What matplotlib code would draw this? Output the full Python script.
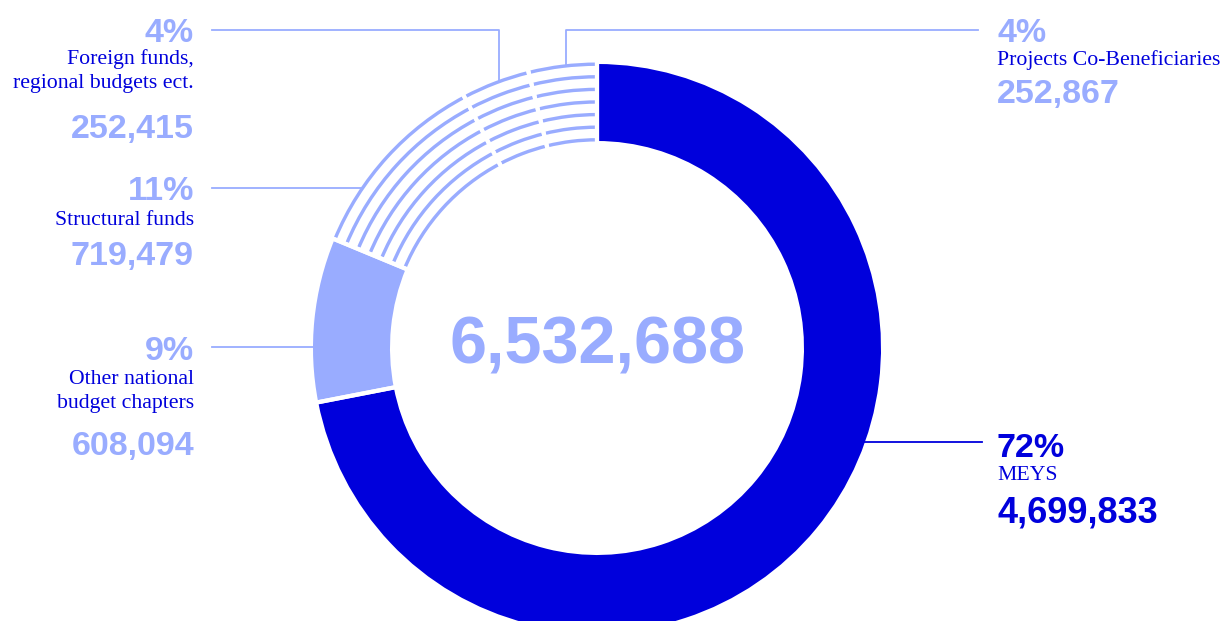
import matplotlib
matplotlib.use("Agg")
import matplotlib.pyplot as plt

# data
names = ["MEYS", "Other national\nbudget chapters", "Structural funds",
         "Foreign funds,\nregional budgets ect.", "Projects Co-Beneficiaries"]
values = [4699833, 608094, 719479, 252415, 252867]
hatched = [False, False, True, True, True]

DARK = "#0000DC"
LIGHT = "#99ACFF"
W, H = 1232, 621
CX, CY = 597, 348          # ring centre, pixels from top
R_OUT, R_W = 284, 77

Y = lambda y: H - y        # pixel-from-top -> data

fig = plt.figure(figsize=(W / 100, H / 100), dpi=100)
ax = fig.add_axes([0, 0, 1, 1])
centre = (CX, Y(CY))

# solid segments
ax.pie(values, radius=R_OUT, center=centre, startangle=90, counterclock=False, frame=True,
       colors=["none" if h else c for h, c in zip(hatched, [DARK, LIGHT, LIGHT, LIGHT, LIGHT])],
       wedgeprops=dict(width=R_W, linewidth=0))

# striped segments: thin concentric rings
for i in range(7):
    ax.pie(values, radius=R_OUT + 1.5 - i * 12.6, center=centre, startangle=90,
           counterclock=False, frame=True,
           colors=[LIGHT if h else "none" for h in hatched],
           wedgeprops=dict(width=3.4, linewidth=0))

# white separators between segments
ax.pie(values, radius=R_OUT + 8, center=centre, startangle=90, counterclock=False, frame=True,
       colors=["none"] * len(values),
       wedgeprops=dict(width=R_W + 16, linewidth=3, edgecolor="white"))

ax.set_xlim(0, W)
ax.set_ylim(0, H)
ax.axis("off")


def ring_x(y, side):
    dy = CY - y
    return CX + side * (R_OUT ** 2 - dy ** 2) ** 0.5


def ring_y(x):
    dx = CX - x
    return CY - (R_OUT ** 2 - dx ** 2) ** 0.5


num_font = dict(family="Liberation Sans", weight="bold", fontsize=24.5)
lab_font = dict(family="Liberation Serif", fontsize=15.7, color=DARK, linespacing=1.35)
total = sum(values)
pct = [f"{round(v / total * 100)}%" for v in values]
num = [f"{v:,}" for v in values]
lw = 1.3

# left side labels (right aligned at x=194)
# Other national
ax.plot([212, ring_x(347, -1)], [Y(347), Y(347)], color=LIGHT, lw=lw)
ax.text(194, Y(360), pct[1], ha="right", va="baseline", color=LIGHT, **num_font)
ax.text(194, Y(408), names[1], ha="right", va="baseline", **lab_font)
ax.text(194, Y(455), num[1], ha="right", va="baseline", color=LIGHT, **num_font)

# Structural funds
ax.plot([212, ring_x(188, -1)], [Y(188), Y(188)], color=LIGHT, lw=lw)
ax.text(194, Y(200), pct[2], ha="right", va="baseline", color=LIGHT, **num_font)
ax.text(194, Y(225), names[2], ha="right", va="baseline", **lab_font)
ax.text(194, Y(265), num[2], ha="right", va="baseline", color=LIGHT, **num_font)

# Foreign funds
ax.plot([212, 499, 499], [Y(30), Y(30), Y(ring_y(499))], color=LIGHT, lw=lw)
ax.text(194, Y(42), pct[3], ha="right", va="baseline", color=LIGHT, **num_font)
ax.text(194, Y(88), names[3], ha="right", va="baseline", **lab_font)
ax.text(194, Y(138), num[3], ha="right", va="baseline", color=LIGHT, **num_font)

# right side labels (left aligned at x=997)
# Projects Co-Beneficiaries
ax.plot([978, 566, 566], [Y(30), Y(30), Y(ring_y(566))], color=LIGHT, lw=lw)
ax.text(997, Y(42), pct[4], ha="left", va="baseline", color=LIGHT, **num_font)
ax.text(997, Y(65), names[4], ha="left", va="baseline", **lab_font)
ax.text(997, Y(103), num[4], ha="left", va="baseline", color=LIGHT, **num_font)

# MEYS
ax.plot([ring_x(442, 1) - 3, 982], [Y(442), Y(442)], color=DARK, lw=lw)
ax.text(997, Y(457), pct[0], ha="left", va="baseline", color=DARK, **num_font)
ax.text(997, Y(480), names[0], ha="left", va="baseline", **lab_font)
ax.text(997, Y(522), num[0], ha="left", va="baseline", color=DARK, fontsize=26,
        family="Liberation Sans", weight="bold")

# total in the middle
ax.text(CX, Y(363), f"{total:,}", ha="center", va="baseline", color=LIGHT,
        family="Liberation Sans", weight="bold", fontsize=48)

fig.savefig("out.png", dpi=100)
